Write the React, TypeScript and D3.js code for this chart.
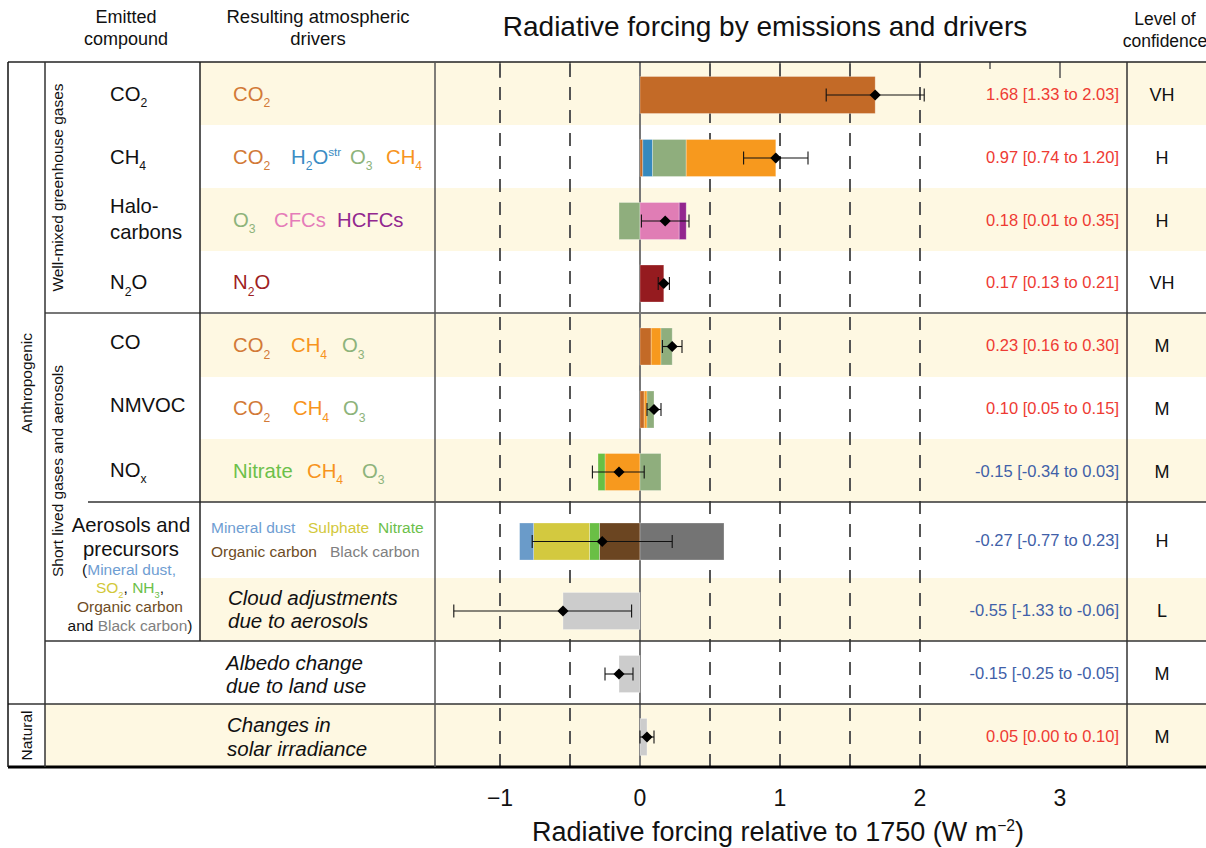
import React from "react";
import * as d3 from "d3";

const FONT = "'Liberation Sans', Arial, Helvetica, sans-serif";

// ---------------- DATA ----------------
const categories = [
  "CO2", "CH4", "Halocarbons", "N2O", "CO", "NMVOC", "NOx",
  "Aerosols and precursors", "Cloud adjustments due to aerosols",
  "Albedo change due to land use", "Changes in solar irradiance",
];
const bestEstimate = [1.68, 0.97, 0.18, 0.17, 0.23, 0.10, -0.15, -0.27, -0.55, -0.15, 0.05];
const lowerBound = [1.33, 0.74, 0.01, 0.13, 0.16, 0.05, -0.34, -0.77, -1.33, -0.25, 0.00];
const upperBound = [2.03, 1.20, 0.35, 0.21, 0.30, 0.15, 0.03, 0.23, -0.06, -0.05, 0.10];
const confidenceLevels = ["VH", "H", "H", "VH", "M", "M", "M", "H", "L", "M", "M"];

// components per row, listed from zero outward (positive and negative stacks)
const co2Parts: [string, number][] = [["CO2", 1.68]];
const ch4Parts: [string, number][] = [["CO2", 0.02], ["H2Ostr", 0.07], ["O3", 0.24], ["CH4", 0.64]];
const halocarbonParts: [string, number][] = [["O3", -0.15], ["CFCs", 0.28], ["HCFCs", 0.05]];
const n2oParts: [string, number][] = [["N2O", 0.17]];
const coParts: [string, number][] = [["CO2", 0.08], ["CH4", 0.07], ["O3", 0.08]];
const nmvocParts: [string, number][] = [["CO2", 0.03], ["CH4", 0.02], ["O3", 0.05]];
const noxParts: [string, number][] = [["CH4", -0.25], ["Nitrate", -0.05], ["O3", 0.15]];
const aerosolParts: [string, number][] = [
  ["OrganicCarbon", -0.29], ["Nitrate", -0.07], ["Sulphate", -0.40], ["MineralDust", -0.10], ["BlackCarbon", 0.60],
];
const cloudParts: [string, number][] = [["Grey", -0.55]];
const albedoParts: [string, number][] = [["Grey", -0.15]];
const solarParts: [string, number][] = [["Grey", 0.05]];
const componentsByRow = [
  co2Parts, ch4Parts, halocarbonParts, n2oParts, coParts, nmvocParts, noxParts,
  aerosolParts, cloudParts, albedoParts, solarParts,
];

const xTickValues = [-1, 0, 1, 2, 3];
const gridValues = [-1, -0.5, 0.5, 1, 1.5, 2];
const topTickValues = [-1, -0.5, 0, 0.5, 1, 1.5, 2, 2.5, 3];

// ---------------- STYLE / LAYOUT ----------------
const barColor: Record<string, string> = {
  CO2: "#C36A27", CH4: "#F7991E", H2Ostr: "#3689BE", O3: "#8FAE7D", CFCs: "#E07DB5",
  HCFCs: "#93268F", N2O: "#951B1F", Nitrate: "#6ABF45", MineralDust: "#6A9BC9",
  Sulphate: "#D3C93F", OrganicCarbon: "#6B4521", BlackCarbon: "#747474", Grey: "#CCCCCC",
};
const textColor: Record<string, string> = {
  CO2: "#D27A37", CH4: "#F7941D", H2Ostr: "#3A8CC4", O3: "#8DB37B", CFCs: "#E57CB9",
  HCFCs: "#92278F", N2O: "#9E1F24", Nitrate: "#6CC04A", MineralDust: "#6E9DD2",
  Sulphate: "#D2C83A", OrganicCarbon: "#6E4C24", BlackCarbon: "#808080",
};
const chemLabel: Record<string, string> = {
  CO2: "CO{2}", CH4: "CH{4}", H2Ostr: "H{2}O[str]", O3: "O{3}", CFCs: "CFCs", HCFCs: "HCFCs",
  N2O: "N{2}O", Nitrate: "Nitrate",
};

const ROW_TOP = 62;
const ROW_HEIGHTS = [63, 63, 63, 62, 64, 62, 63, 76, 63, 63, 63];
const rowEdges = [ROW_TOP, ...Array.from(d3.cumsum(ROW_HEIGHTS), (c) => ROW_TOP + c)];
const rowMid = (i: number) => (rowEdges[i] + rowEdges[i + 1]) / 2;
const BOTTOM = rowEdges[rowEdges.length - 1];

const W = 1206, H = 848;
const X_LEFT = 8, X_GROUP = 45, X_COMP = 200, X_DRV = 435, X_CONF = 1127;

const x = d3.scaleLinear().domain([-1, 3]).range([500, 1060]);
const fmt = (v: number) => d3.format(".2f")(v).replace("\u2212", "-");

const FS_LABEL = 20.3;

// driver label positions (x) per row, for rows 0..6
const driverLabelX: [string, number][][] = [
  [["CO2", 233]],
  [["CO2", 233], ["H2Ostr", 291], ["O3", 350], ["CH4", 386]],
  [["O3", 233], ["CFCs", 274], ["HCFCs", 337]],
  [["N2O", 233]],
  [["CO2", 233], ["CH4", 291], ["O3", 342]],
  [["CO2", 233], ["CH4", 293], ["O3", 343]],
  [["Nitrate", 233], ["CH4", 307], ["O3", 362]],
];

// ---------------- helpers ----------------
function chemSpans(s: string, fs: number, state: { shift: number }, keyBase: string) {
  const out: React.ReactNode[] = [];
  const re = /\{([^}]*)\}|\[([^\]]*)\]|([^{\[]+)/g;
  let m: RegExpExecArray | null;
  let i = 0;
  while ((m = re.exec(s))) {
    let target = 0;
    let size = fs;
    let t = "";
    if (m[1] !== undefined) { target = fs * 0.33; size = fs * 0.6; t = m[1]; }
    else if (m[2] !== undefined) { target = -fs * 0.36; size = fs * 0.58; t = m[2]; }
    else { target = 0; size = fs; t = m[3]; }
    const dy = target - state.shift;
    state.shift = target;
    out.push(<tspan key={keyBase + i++} dy={dy} fontSize={size}>{t}</tspan>);
  }
  return out;
}

function Chem({ s, x: px, y, fs, fill, anchor = "start", style }: any) {
  const st = { shift: 0 };
  return (
    <text x={px} y={y} fontSize={fs} fill={fill} textAnchor={anchor} fontFamily={FONT} fontStyle={style}>
      {chemSpans(s, fs, st, "c")}
    </text>
  );
}

function Rich({ parts, x: px, y, fs, anchor = "start" }: { parts: [string, string][]; x: number; y: number; fs: number; anchor?: string }) {
  const st = { shift: 0 };
  return (
    <text x={px} y={y} fontSize={fs} textAnchor={anchor as any} fontFamily={FONT}>
      {parts.map(([t, c], j) => (
        <tspan key={j} fill={c}>{chemSpans(t, fs, st, "r" + j + "_")}</tspan>
      ))}
    </text>
  );
}

export default function App() {
  const diamond = d3.symbol().type(d3.symbolSquare).size(62)()!;
  const beigeRows = [0, 2, 4, 6, 8, 10];

  const bars: React.ReactNode[] = [];
  componentsByRow.forEach((parts, i) => {
    let pos = 0, neg = 0;
    const cy = rowMid(i) + 1.5;
    parts.forEach(([k, v], j) => {
      let a: number, b: number;
      if (v >= 0) { a = pos; b = pos + v; pos = b; } else { a = neg + v; b = neg; neg = a; }
      bars.push(
        <rect key={`b${i}-${j}`} x={x(a)} y={cy - 18.5} width={x(b) - x(a)} height={37}
          fill={barColor[k]} stroke="#ffffff" strokeOpacity={0.35} strokeWidth={0.8} />
      );
    });
  });

  return (
    <svg width={W} height={H} style={{ position: "absolute", left: 0, top: 0, background: "#fff" }} fontFamily={FONT}>
      {/* beige row backgrounds */}
      {beigeRows.map((i) => (
        <rect key={"bg" + i} x={i === 10 ? X_GROUP : X_COMP} y={rowEdges[i]} width={W - (i === 10 ? X_GROUP : X_COMP)}
          height={rowEdges[i + 1] - rowEdges[i]} fill="#FEF8E2" />
      ))}

      {/* grid lines */}
      {gridValues.map((v) => (
        <line key={"g" + v} x1={x(v)} x2={x(v)} y1={ROW_TOP + 2} y2={BOTTOM} stroke="#555" strokeWidth={2} strokeDasharray="13 10" />
      ))}
      {topTickValues.map((v) => (
        <line key={"tt" + v} x1={x(v)} x2={x(v)} y1={ROW_TOP} y2={ROW_TOP + (Number.isInteger(v) ? 16 : 7)} stroke="#555" strokeWidth={1.5} />
      ))}
      <line x1={x(0)} x2={x(0)} y1={ROW_TOP} y2={BOTTOM} stroke="#777" strokeWidth={2} />

      {/* bars */}
      {bars}

      {/* error bars + diamonds */}
      {categories.map((c, i) => {
        const cy = rowMid(i) + 1.5;
        return (
          <g key={"e" + i}>
            <line x1={x(lowerBound[i])} x2={x(upperBound[i])} y1={cy} y2={cy} stroke="#111" strokeWidth={1.1} />
            <line x1={x(lowerBound[i])} x2={x(lowerBound[i])} y1={cy - 6.5} y2={cy + 6.5} stroke="#111" strokeWidth={1.1} />
            <line x1={x(upperBound[i])} x2={x(upperBound[i])} y1={cy - 6.5} y2={cy + 6.5} stroke="#111" strokeWidth={1.1} />
            <path d={diamond} transform={`translate(${x(bestEstimate[i])},${cy}) rotate(45)`} fill="#000" />
          </g>
        );
      })}

      {/* frame lines */}
      <line x1={X_LEFT} x2={W} y1={ROW_TOP} y2={ROW_TOP} stroke="#222" strokeWidth={1.5} />
      <line x1={X_GROUP} x2={W} y1={rowEdges[4]} y2={rowEdges[4]} stroke="#777" strokeWidth={2} />
      <line x1={88} x2={W} y1={rowEdges[7]} y2={rowEdges[7]} stroke="#333" strokeWidth={1.5} />
      <line x1={X_GROUP} x2={W} y1={rowEdges[9]} y2={rowEdges[9]} stroke="#333" strokeWidth={1.5} />
      <line x1={X_LEFT} x2={W} y1={rowEdges[10]} y2={rowEdges[10]} stroke="#333" strokeWidth={1.5} />
      <line x1={X_LEFT} x2={W} y1={BOTTOM} y2={BOTTOM} stroke="#000" strokeWidth={3} />
      <line x1={X_LEFT} x2={X_LEFT} y1={ROW_TOP} y2={BOTTOM} stroke="#111" strokeWidth={1.5} />
      <line x1={X_GROUP} x2={X_GROUP} y1={ROW_TOP} y2={BOTTOM} stroke="#333" strokeWidth={1.5} />
      <line x1={X_COMP} x2={X_COMP} y1={ROW_TOP} y2={rowEdges[9]} stroke="#222" strokeWidth={1.5} />
      <line x1={X_DRV} x2={X_DRV} y1={ROW_TOP} y2={BOTTOM} stroke="#555" strokeWidth={1.5} />
      <line x1={X_CONF} x2={X_CONF} y1={ROW_TOP} y2={BOTTOM} stroke="#333" strokeWidth={1.5} />

      {/* headers */}
      <text x={765} y={36} fontSize={28} textAnchor="middle" fill="#111">Radiative forcing by emissions and drivers</text>
      <text x={126} y={23} fontSize={18} textAnchor="middle" fill="#111">Emitted</text>
      <text x={126} y={45} fontSize={18} textAnchor="middle" fill="#111">compound</text>
      <text x={318} y={23} fontSize={18.5} textAnchor="middle" fill="#111">Resulting atmospheric</text>
      <text x={318} y={45} fontSize={18.5} textAnchor="middle" fill="#111">drivers</text>
      <text x={1165} y={25} fontSize={17.5} textAnchor="middle" fill="#111">Level of</text>
      <text x={1165} y={47} fontSize={17.5} textAnchor="middle" fill="#111">confidence</text>

      {/* vertical group labels */}
      <text transform={`translate(32,${(ROW_TOP + rowEdges[10]) / 2}) rotate(-90)`} fontSize={15.5} textAnchor="middle" fill="#111">Anthropogenic</text>
      <text transform={`translate(32,${rowMid(10)}) rotate(-90)`} fontSize={15.5} textAnchor="middle" fill="#111">Natural</text>
      <text transform={`translate(63,${(ROW_TOP + rowEdges[4]) / 2}) rotate(-90)`} fontSize={15.5} textAnchor="middle" fill="#111">Well-mixed greenhouse gases</text>
      <text transform={`translate(63,471) rotate(-90)`} fontSize={15.5} textAnchor="middle" fill="#111">Short lived gases and aerosols</text>

      {/* emitted compound labels */}
      <Chem s="CO{2}" x={110} y={rowMid(0) + 7} fs={FS_LABEL} fill="#111" />
      <Chem s="CH{4}" x={110} y={rowMid(1) + 7} fs={FS_LABEL} fill="#111" />
      <text x={110} y={rowMid(2) - 7} fontSize={FS_LABEL} fill="#111">Halo-</text>
      <text x={110} y={rowMid(2) + 19} fontSize={FS_LABEL} fill="#111">carbons</text>
      <Chem s="N{2}O" x={110} y={rowMid(3) + 7} fs={FS_LABEL} fill="#111" />
      <text x={110} y={rowMid(4) + 4} fontSize={FS_LABEL} fill="#111">CO</text>
      <text x={110} y={rowMid(5) + 4} fontSize={FS_LABEL} fill="#111">NMVOC</text>
      <Chem s="NO{x}" x={110} y={rowMid(6) + 6} fs={FS_LABEL} fill="#111" />
      <text x={131} y={532} fontSize={FS_LABEL} textAnchor="middle" fill="#111">Aerosols and</text>
      <text x={131} y={556} fontSize={FS_LABEL} textAnchor="middle" fill="#111">precursors</text>
      <Rich x={129} y={575} fs={15.5} anchor="middle" parts={[["(", "#111"], ["Mineral dust,", textColor.MineralDust]]} />
      <Rich x={130} y={593} fs={15.5} anchor="middle" parts={[["SO{2}", textColor.Sulphate], [", ", "#111"], ["NH{3}", textColor.Nitrate], [",", "#111"]]} />
      <Rich x={130} y={612} fs={15.5} anchor="middle" parts={[["Organic carbon", textColor.OrganicCarbon]]} />
      <Rich x={130} y={631} fs={15.5} anchor="middle" parts={[["and ", "#111"], ["Black carbon", textColor.BlackCarbon], [")", "#111"]]} />

      {/* driver labels */}
      {driverLabelX.map((row, i) =>
        row.map(([k, px]) => (
          <Chem key={`d${i}-${k}`} s={chemLabel[k]} x={px} y={rowMid(i) + 7} fs={FS_LABEL} fill={textColor[k]} />
        ))
      )}
      <text x={211} y={533} fontSize={15.5} fill={textColor.MineralDust}>Mineral dust</text>
      <text x={308} y={533} fontSize={15.5} fill={textColor.Sulphate}>Sulphate</text>
      <text x={378} y={533} fontSize={15.5} fill={textColor.Nitrate}>Nitrate</text>
      <text x={211} y={557} fontSize={15.5} fill={textColor.OrganicCarbon}>Organic carbon</text>
      <text x={330} y={557} fontSize={15.5} fill={textColor.BlackCarbon}>Black carbon</text>

      <text x={228} y={rowMid(8) - 5} fontSize={20.5} fontStyle="italic" fill="#111">Cloud adjustments</text>
      <text x={228} y={rowMid(8) + 18} fontSize={20.5} fontStyle="italic" fill="#111">due to aerosols</text>
      <text x={226} y={rowMid(9) - 3} fontSize={20.5} fontStyle="italic" fill="#111">Albedo change</text>
      <text x={226} y={rowMid(9) + 20} fontSize={20.5} fontStyle="italic" fill="#111">due to land use</text>
      <text x={227} y={rowMid(10) - 4} fontSize={20.5} fontStyle="italic" fill="#111">Changes in</text>
      <text x={227} y={rowMid(10) + 20} fontSize={20.5} fontStyle="italic" fill="#111">solar irradiance</text>

      {/* values & confidence */}
      {categories.map((c, i) => (
        <g key={"v" + i}>
          <text x={1119} y={rowMid(i) + 6} fontSize={16.5} textAnchor="end" fill={bestEstimate[i] > 0 ? "#EE3B33" : "#4060A8"}>
            {`${fmt(bestEstimate[i])} [${fmt(lowerBound[i])} to ${fmt(upperBound[i])}]`}
          </text>
          <text x={1162} y={rowMid(i) + 7} fontSize={18} textAnchor="middle" fill="#111">{confidenceLevels[i]}</text>
        </g>
      ))}

      {/* x axis */}
      {xTickValues.map((v) => (
        <text key={"xt" + v} x={x(v)} y={806} fontSize={23} textAnchor="middle" fill="#111">
          {v < 0 ? "\u2212" + Math.abs(v) : String(v)}
        </text>
      ))}
      <Chem s={"Radiative forcing relative to 1750 (W m[\u22122])"} x={778} y={841} fs={27} fill="#111" anchor="middle" />
    </svg>
  );
}
